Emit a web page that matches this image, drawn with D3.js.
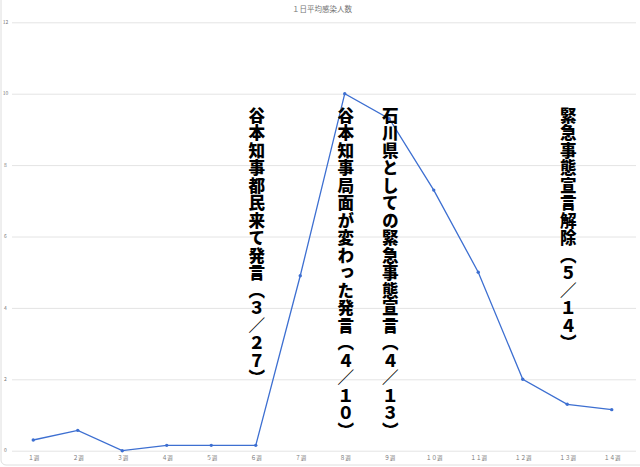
<!DOCTYPE html>
<html>
<head>
<meta charset="utf-8">
<script src="https://cdn.jsdelivr.net/npm/d3@7"></script>
<style>
  body { margin: 0; background: #fff; }
  svg { display: block; font-family: "Noto Sans CJK JP", "Noto Sans", sans-serif; }
</style>
</head>
<body>
<svg id="chart" width="640" height="467"></svg>
<script>
// data
const weeks = ["１週", "２週", "３週", "４週", "５週", "６週", "７週",
  "８週", "９週", "１０週", "１１週", "１２週", "１３週", "１４週"];
const cases = [0.3, 0.57, 0, 0.15, 0.15, 0.15, 4.9, 10, 9.3, 7.3, 5.0, 2.0, 1.3, 1.15];
const yTicks = [0, 2, 4, 6, 8, 10, 12];
const notes = ["谷本知事都民来て発言（３／２７）", "谷本知事局面が変わった発言（４／１０）",
  "石川県としての緊急事態宣言（４／１３）", "緊急事態宣言解除（５／１４）"];
const noteWeeks = ["６週", "８週", "９週", "１３週"];

const svg = d3.select("#chart");

// faint frame round the chart
svg.append("rect")
  .attr("x", 1).attr("y", -20)
  .attr("width", 660).attr("height", 485)
  .attr("rx", 5)
  .attr("fill", "none")
  .attr("stroke", "#dedede");

const x = d3.scalePoint().domain(weeks).range([11, 634]).padding(0.5);
const y = d3.scaleLinear().domain([0, 12]).range([450.7, 22.3]);

// gridlines
svg.append("g")
  .attr("transform", "translate(636,0)")
  .call(d3.axisRight(y).tickValues(yTicks).tickSize(-624).tickFormat(""))
  .call(g => g.select(".domain").remove())
  .call(g => g.selectAll("line").attr("stroke", "#e4e4e4").attr("stroke-width", 1));

// y labels
svg.append("g")
  .selectAll("text")
  .data(yTicks)
  .enter()
  .append("text")
  .attr("x", 5.5)
  .attr("y", d => y(d))
  .attr("dy", "0.35em")
  .attr("text-anchor", "middle")
  .attr("font-size", 5)
  .attr("fill", "#777")
  .text(d => d);

// x labels
svg.append("g")
  .attr("transform", "translate(0,451)")
  .call(d3.axisBottom(x).tickSize(0).tickPadding(5))
  .call(g => g.select(".domain").remove())
  .call(g => g.selectAll("text")
    .attr("font-size", 5.5)
    .attr("fill", "#777")
    .attr("font-family", "'Noto Sans CJK JP', sans-serif"));

// title
svg.append("text")
  .attr("x", 322)
  .attr("y", 11.5)
  .attr("text-anchor", "middle")
  .attr("font-size", 7.5)
  .attr("fill", "#757575")
  .text("１日平均感染人数");

// line
const line = d3.line()
  .x((d, i) => x(weeks[i]))
  .y(d => y(d));

svg.append("path")
  .datum(cases)
  .attr("d", line)
  .attr("fill", "none")
  .attr("stroke", "#3d6fd1")
  .attr("stroke-width", 1.3);

svg.append("g")
  .selectAll("circle")
  .data(cases)
  .enter()
  .append("circle")
  .attr("cx", (d, i) => x(weeks[i]))
  .attr("cy", d => y(d))
  .attr("r", 1.7)
  .attr("fill", "#3d6fd1");

// vertical annotations
svg.append("g")
  .selectAll("text")
  .data(notes)
  .enter()
  .append("text")
  .attr("x", (d, i) => x(noteWeeks[i]) + 1)
  .attr("y", y(9.62))
  .style("writing-mode", "vertical-rl")
  .style("text-orientation", "mixed")
  .style("letter-spacing", "0.9px")
  .attr("font-size", 16.6)
  .attr("font-weight", 900)
  .attr("fill", "#000")
  .text(d => d);
</script>
</body>
</html>
